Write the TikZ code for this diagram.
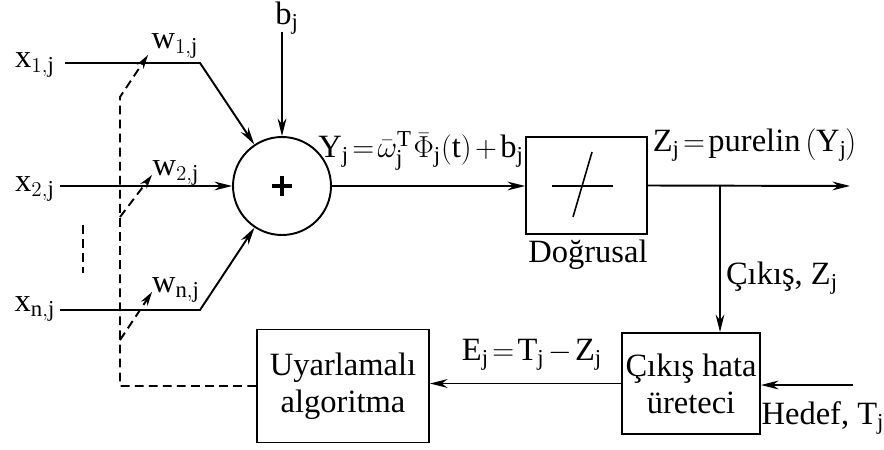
\documentclass[tikz,border=0pt]{standalone}
\usepackage{fontspec}
\setmainfont{Liberation Serif}
\usepackage{tikz}
\usetikzlibrary{arrows.meta, positioning, calc}

\begin{document}
\begin{tikzpicture}[line width=1.1pt, font=\fontsize{18.5}{21}\selectfont]
                \tikzset{
                    blockbox/.style={rectangle, draw, line width=1.1pt, align=center},
                    sig/.style={-{Stealth[length=10pt,width=5pt]}},
                    adapt/.style={dashed, dash pattern=on 5pt off 3pt},
                }
                \useasboundingbox (0,0) rectangle (17.68,-8.98);

                % Summing junction
                \node[circle, draw, line width=1.1pt, minimum size=1.96cm, inner sep=0pt,
                    path picture={
                        \draw[line width=2.6pt] ($(path picture bounding box.center)+(-0.2,0)$) -- ++(0.4,0);
                        \draw[line width=2.6pt] ($(path picture bounding box.center)+(0,-0.2)$) -- ++(0,0.4);
                    }] (sum) at (5.64,-3.72) {};
                \node (bj) at (5.74,-0.36) {$\mathrm{b}_{\mathrm{j}}$};
                \coordinate (bin) at (5.64,-0.64);
                \draw[sig] (bin) -- (sum);

                % Inputs
                \node (x1) at (0.7,-1.3) {$\mathrm{x}_{1,\mathrm{j}}$};
                \node (x2) at (0.7,-3.78) {$\mathrm{x}_{2,\mathrm{j}}$};
                \node (xn) at (0.7,-6.18) {$\mathrm{x}_{\mathrm{n},\mathrm{j}}$};
                \coordinate (in1) at (1.3,-1.26);
                \coordinate (k1) at (4.0,-1.26);
                \coordinate (in2) at (1.2,-3.72);
                \coordinate (inn) at (1.2,-6.2);
                \coordinate (kn) at (4.0,-6.2);
                \draw[sig] (in1) -- (k1) -- (sum);
                \draw[sig] (in2) -- (sum);
                \draw[sig] (inn) -- (kn) -- (sum);
                \coordinate (dots1) at (1.66,-4.5);
                \coordinate (dots2) at (1.66,-5.46);
                \draw[adapt] (dots1) -- (dots2);

                % Weights
                \node (w1) at (3.5,-0.92) {$\mathrm{w}_{1,\mathrm{j}}$};
                \node (w2) at (3.52,-3.46) {$\mathrm{w}_{2,\mathrm{j}}$};
                \node (wn) at (3.52,-5.8) {$\mathrm{w}_{\mathrm{n},\mathrm{j}}$};

                % Linear block
                \node[blockbox, minimum width=2.42cm, minimum height=1.94cm] (lin) at (11.73,-3.71) {};
                \node (linlbl) at (11.76,-5.1) {Doğrusal};
                \draw[line width=0.9pt] (11.04,-3.72) -- (12.26,-3.72);
                \draw[line width=0.9pt] (11.46,-4.34) -- (11.84,-3.04);
                \draw[sig] (sum) -- (sum -| lin.west);
                \node (ylbl) at (8.42,-3.02) {$\mathrm{Y}_{\mathrm{j}}\mkern2mu{=}\mkern2mu\bar{\omega}_{\mathrm{j}}^{\mathrm{T}}\mkern1mu\bar{\Phi}_{\mathrm{j}}(\mathrm{t})\mkern2mu{+}\mkern2mu\mathrm{b}_{\mathrm{j}}$};

                % Output
                \coordinate (out) at (17.0,-3.72);
                \coordinate (br) at (14.4,-3.72);
                \draw[sig] (lin.east) -- (out);
                \node (zlbl) at (15.1,-2.9) {$\mathrm{Z}_{\mathrm{j}}\mkern2mu{=}\mkern2mu\mathrm{purelin}\left(\mathrm{Y}_{\mathrm{j}}\right)$};

                % Error generator
                \node[blockbox, minimum width=2.76cm, minimum height=2.02cm, inner sep=2pt] (err) at (13.82,-7.67)
                    {Çıkış hata\\üreteci};
                \draw[sig] (br) -- (br |- err.north);
                \node (clbl) at (15.64,-5.56) {Çıkış, $\mathrm{Z}_{\mathrm{j}}$};
                \coordinate (tgt) at (17.06,-7.7);
                \draw[sig] (tgt) -- (tgt -| err.east);
                \node (tlbl) at (16.46,-8.36) {Hedef, $\mathrm{T}_{\mathrm{j}}$};

                % Adaptive algorithm
                \node[blockbox, minimum width=3.44cm, minimum height=2.26cm] (alg) at (6.86,-7.72)
                    {Uyarlamalı\\algoritma};
                \draw[sig] (err.west) -- (err.west -| alg.east);
                \node (elbl) at (10.64,-7.1) {$\mathrm{E}_{\mathrm{j}}\mkern2mu{=}\mkern2mu\mathrm{T}_{\mathrm{j}}\mkern2mu{-}\mkern2mu\mathrm{Z}_{\mathrm{j}}$};

                % Weight update (dashed)
                \coordinate (fb) at (2.4,-7.72);
                \coordinate (d1) at (2.4,-1.94);
                \coordinate (t1) at (2.96,-1.1);
                \coordinate (d2) at (2.4,-4.34);
                \coordinate (t2) at (3.04,-3.5);
                \coordinate (dn) at (2.4,-6.8);
                \coordinate (tn) at (3.04,-5.84);
                \draw[adapt, -{Stealth[length=8pt,width=4.5pt]}] (alg.west) -- (fb) -- (d1) -- (t1);
                \draw[adapt, -{Stealth[length=8pt,width=4.5pt]}] (d2) -- (t2);
                \draw[adapt, -{Stealth[length=8pt,width=4.5pt]}] (dn) -- (tn);
            \end{tikzpicture}
\end{document}
